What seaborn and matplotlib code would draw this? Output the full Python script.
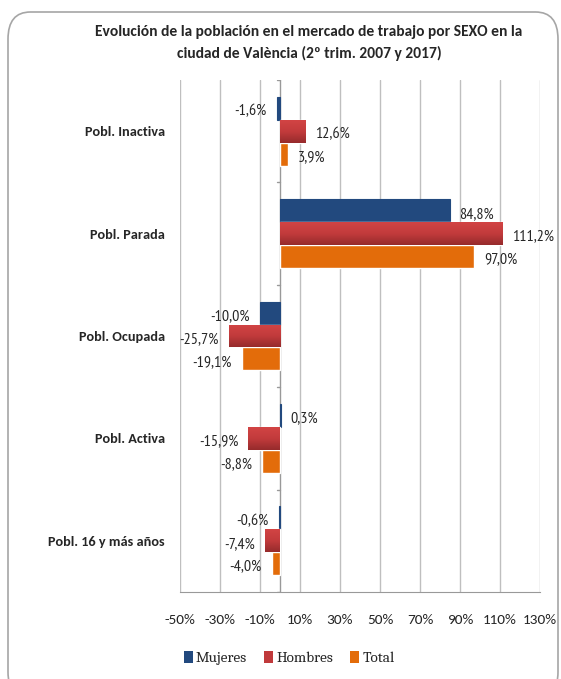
import matplotlib
matplotlib.use("Agg")
import matplotlib.pyplot as plt
from matplotlib.patches import FancyBboxPatch, Patch
from matplotlib.colors import LinearSegmentedColormap
import seaborn as sns
import pandas as pd
import numpy as np

categories = ["Pobl. Inactiva", "Pobl. Parada", "Pobl. Ocupada", "Pobl. Activa", "Pobl. 16 y más años"]
series = ["Mujeres", "Hombres", "Total"]
mujeres = [-1.6, 84.8, -10.0, 0.3, -0.6]
hombres = [12.6, 111.2, -25.7, -15.9, -7.4]
total = [3.9, 97.0, -19.1, -8.8, -4.0]
xticks = [-50, -30, -10, 10, 30, 50, 70, 90, 110, 130]
colors = ["#22497e", "#c0393b", "#e36c0a"]
title = "Evolución de la población en el mercado de trabajo por SEXO en la\nciudad de València (2º trim. 2007 y 2017)"

df = pd.DataFrame({
    "cat": categories * 3,
    "serie": sum([[s] * len(categories) for s in series], []),
    "val": mujeres + hombres + total,
})

SANS = ["Carlito", "Lato", "DejaVu Sans"]
NARROW = ["PT Sans Narrow", "Roboto Condensed", "Archivo Narrow", "Carlito", "DejaVu Sans"]
SERIF = ["Caladea", "Liberation Serif", "DejaVu Serif"]

sns.set_style("white")
plt.rcParams["font.family"] = SANS

fig = plt.figure(figsize=(5.61, 6.79), dpi=100)
W, H = 561, 679
border = FancyBboxPatch((8 / W, -20 / H), 550 / W, (H - 12 + 20) / H,
                        boxstyle="round,pad=0,rounding_size=0.04",
                        transform=fig.transFigure, facecolor="none",
                        edgecolor="#a6a6a6", linewidth=1.2, zorder=-1)
fig.patches.append(border)

ax = fig.add_axes([180 / W, 1 - 592 / H, 360 / W, 512 / H])
ax.set_facecolor("none")
sns.barplot(data=df, y="cat", x="val", hue="serie", order=categories,
            hue_order=series, palette=colors, orient="h", width=0.67,
            saturation=1, ax=ax, legend=False, zorder=3)

ax.set_xlim(-50, 130)
ax.set_ylim(len(categories) - 0.5, -0.5)
ax.set_xticks(xticks)
ax.set_xticklabels([f"{t}%" for t in xticks], fontsize=11, family=SANS)
ax.tick_params(axis="x", length=5, color="#999999", pad=11, direction="out")
ax.tick_params(axis="y", length=0, pad=10.8)
for lbl in ax.get_yticklabels():
    lbl.set_fontfamily(SANS)
    lbl.set_fontweight("bold")
    lbl.set_fontsize(10.3)
ax.set_xlabel("")
ax.set_ylabel("")
ax.grid(axis="x", color="#bfbfbf", linewidth=1, zorder=0)
ax.grid(axis="y", visible=False)
for s in ["top", "right", "left"]:
    ax.spines[s].set_visible(False)
ax.spines["bottom"].set_color("#999999")
ax.axvline(0, color="#999999", linewidth=1, zorder=2)
for b in np.arange(-0.5, len(categories), 1.0):
    ax.plot([-1.6, 0], [b, b], color="#999999", linewidth=1, zorder=2)

# thin outline so tiny Mujeres bars stay visible
for bar in ax.containers[0]:
    bar.set_edgecolor(colors[0])
    bar.set_linewidth(0.8)

# gradient on the Hombres bars
red_grad = LinearSegmentedColormap.from_list("rg", ["#d24444", "#c23b3c", "#962b2c"])
grad = np.linspace(0, 1, 64).reshape(-1, 1)
for bar in ax.containers[1]:
    x0, y0 = bar.get_x(), bar.get_y()
    w, h = bar.get_width(), bar.get_height()
    im = ax.imshow(grad, cmap=red_grad, aspect="auto", zorder=3.5,
                   extent=[min(x0, x0 + w), max(x0, x0 + w), y0 + h, y0],
                   interpolation="bilinear")
    im.set_clip_path(bar)
ax.set_xlim(-50, 130)
ax.set_ylim(len(categories) - 0.5, -0.5)

# value labels
for container in ax.containers:
    for bar in container:
        v = bar.get_width()
        y = bar.get_y() + bar.get_height() / 2
        txt = f"{v:.1f}%".replace(".", ",")
        if v >= 0:
            ax.annotate(txt, (v, y), xytext=(10, -3), textcoords="offset pixels",
                        ha="left", va="center", fontsize=11.5, color="#262626",
                        family=NARROW, zorder=5)
        else:
            ax.annotate(txt, (v, y), xytext=(-10, -3), textcoords="offset pixels",
                        ha="right", va="center", fontsize=11.5, color="#262626",
                        family=NARROW, zorder=5)

fig.text(309 / W, 1 - 43 / H, title, ha="center", va="center", fontsize=11.2,
         fontweight="bold", family=SANS, linespacing=1.65)

handles = [Patch(facecolor=c, edgecolor="none") for c in colors]
fig.legend(handles, series, loc="center", bbox_to_anchor=(289 / W, 1 - 658 / H),
           ncol=3, frameon=False, handlelength=0.6, handleheight=0.8,
           handletextpad=0.2, columnspacing=1.1,
           prop={"family": SERIF, "size": 11})

fig.savefig("out.png", dpi=100)
